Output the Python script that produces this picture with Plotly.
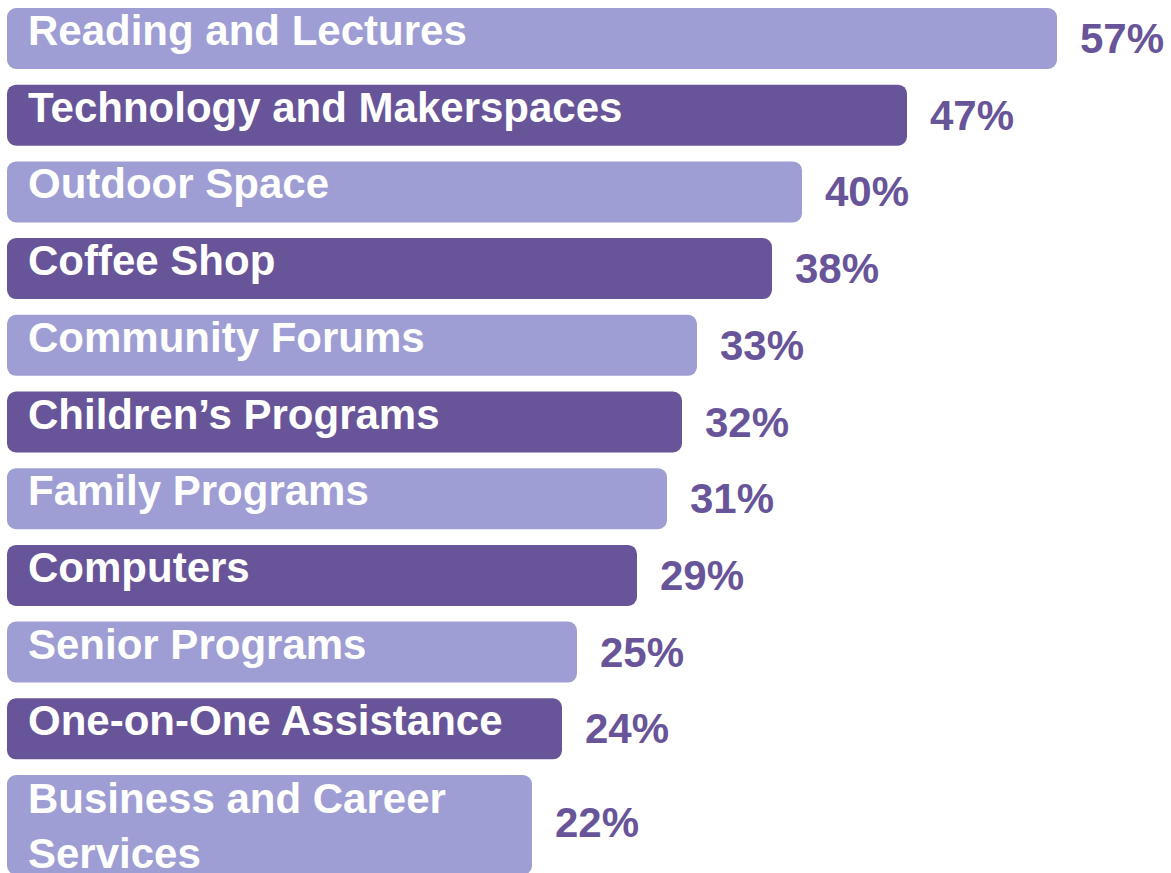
import plotly.graph_objects as go

categories = [
    "Reading and Lectures",
    "Technology and Makerspaces",
    "Outdoor Space",
    "Coffee Shop",
    "Community Forums",
    "Children’s Programs",
    "Family Programs",
    "Computers",
    "Senior Programs",
    "One-on-One Assistance",
    "Business and Career Services",
]
display_labels = [
    "Reading and Lectures",
    "Technology and Makerspaces",
    "Outdoor Space",
    "Coffee Shop",
    "Community Forums",
    "Children’s Programs",
    "Family Programs",
    "Computers",
    "Senior Programs",
    "One-on-One Assistance",
    "Business and Career<br>Services",
]
values = [57, 47, 40, 38, 33, 32, 31, 29, 25, 24, 22]

LIGHT = "#9e9ed4"
DARK = "#685498"
colors = [LIGHT if i % 2 == 0 else DARK for i in range(len(values))]

BAR_BASE = -13.0
widths = [0.795] * (len(values) - 1) + [1.30]
offsets = [-0.3975] * len(values)

fig = go.Figure()
fig.add_trace(go.Bar(
    y=categories,
    x=[v - BAR_BASE for v in values],
    base=BAR_BASE,
    orientation="h",
    width=widths,
    offset=offsets,
    marker=dict(color=colors, line=dict(width=0)),
    hoverinfo="skip",
))

FONT = "Liberation Sans, Arial, Helvetica, sans-serif"
annotations = []
for i, (cat, lab, v) in enumerate(zip(categories, display_labels, values)):
    last = i == len(values) - 1
    annotations.append(dict(
        x=BAR_BASE, y=cat, xref="x", yref="y",
        text=f"<b>{lab}</b>", showarrow=False,
        xanchor="left", yanchor="middle", align="left",
        xshift=19, yshift=(-20 if last else 8),
        font=dict(family=FONT, size=42, color="white"),
    ))
    annotations.append(dict(
        x=v, y=cat, xref="x", yref="y",
        text=f"<b>{v}%</b>", showarrow=False,
        xanchor="left", yanchor="middle",
        xshift=21, yshift=(-17 if last else 0),
        font=dict(family=FONT, size=42, color=DARK),
    ))

fig.update_layout(
    width=1171, height=873,
    margin=dict(l=0, r=0, t=0, b=0),
    paper_bgcolor="white", plot_bgcolor="white",
    barcornerradius=9,
    showlegend=False,
    xaxis=dict(range=[-13.467, 64.6], visible=False, fixedrange=True),
    yaxis=dict(range=[10.88, -0.502], visible=False, fixedrange=True,
               type="category", categoryorder="array", categoryarray=categories),
    annotations=annotations,
)

fig.write_html(
    "out.html",
    config={"displayModeBar": False},
    post_script="document.body.style.margin='0';document.body.style.overflow='hidden';",
)
